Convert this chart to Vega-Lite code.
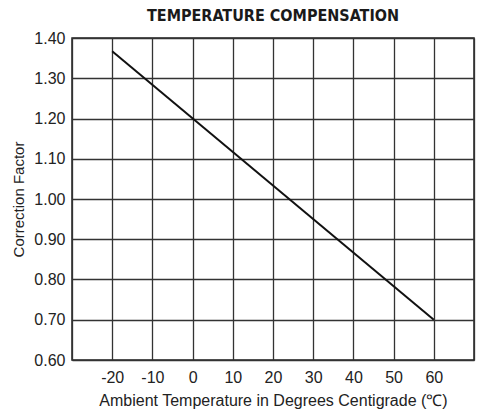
{
  "$schema": "https://vega.github.io/schema/vega-lite/v6.json",
  "autosize": {"type": "none"},
  "padding": {"left": 72, "top": 38, "right": 4, "bottom": 58},
  "width": 402,
  "height": 322,
  "background": "white",
  "title": {
    "text": "TEMPERATURE COMPENSATION",
    "font": "DejaVu Sans Condensed",
    "fontSize": 16,
    "fontWeight": "bold",
    "color": "#1a1a1a",
    "anchor": "middle",
    "offset": 6
  },
  "data": {
    "values": [
      {"temp": -20, "factor": 1.367},
      {"temp": 60, "factor": 0.70}
    ]
  },
  "mark": {"type": "line", "color": "#111111", "strokeWidth": 2},
  "encoding": {
    "x": {
      "field": "temp",
      "type": "quantitative",
      "scale": {"domain": [-30, 70], "nice": false, "zero": false},
      "axis": {
        "values": [-30, -20, -10, 0, 10, 20, 30, 40, 50, 60, 70],
        "labelExpr": "datum.value == -30 || datum.value == 70 ? '' : replace(datum.label, '−', '-')",
        "title": "Ambient Temperature in Degrees Centigrade (℃)",
        "titleFont": "Liberation Sans",
        "titleFontSize": 16,
        "titleFontWeight": "normal",
        "titleColor": "#222222",
        "titlePadding": 7,
        "labelFont": "Liberation Sans",
        "labelFontSize": 16,
        "labelColor": "#222222",
        "labelPadding": 9,
        "ticks": false,
        "domain": false,
        "grid": true,
        "gridColor": "#333333",
        "gridWidth": 1.3,
        "gridOpacity": 1
      }
    },
    "y": {
      "field": "factor",
      "type": "quantitative",
      "scale": {"domain": [0.6, 1.4], "nice": false, "zero": false},
      "axis": {
        "values": [0.6, 0.7, 0.8, 0.9, 1.0, 1.1, 1.2, 1.3, 1.4],
        "format": ".2f",
        "title": "Correction Factor",
        "titleFont": "Liberation Sans",
        "titleFontSize": 15,
        "titleFontWeight": "normal",
        "titleColor": "#222222",
        "titlePadding": 7,
        "labelFont": "Liberation Sans",
        "labelFontSize": 16,
        "labelColor": "#222222",
        "labelPadding": 7,
        "ticks": false,
        "domain": false,
        "grid": true,
        "gridColor": "#333333",
        "gridWidth": 1.3,
        "gridOpacity": 1
      }
    }
  },
  "config": {
    "view": {"stroke": "#222222", "strokeWidth": 1.5}
  }
}
